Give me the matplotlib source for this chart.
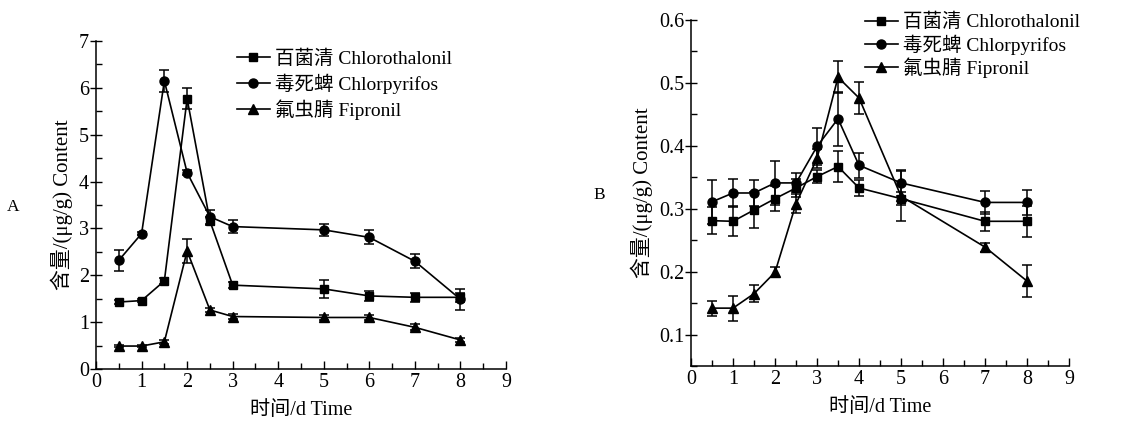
import matplotlib
matplotlib.use("Agg")
import matplotlib.pyplot as plt
from matplotlib.lines import Line2D
from matplotlib.ticker import MultipleLocator

plt.rcParams['font.family'] = ['Liberation Serif', 'Noto Sans CJK SC']

names = ['百菌清 Chlorothalonil', '毒死蜱 Chlorpyrifos', '氟虫腈 Fipronil']
markers = ['s', 'o', '^']
msizes = [5.5, 6.5, 7]

# panel A
days_a = [0.5, 1, 1.5, 2, 2.5, 3, 5, 6, 7, 8]
chloro_a = [1.43, 1.46, 1.88, 5.77, 3.16, 1.79, 1.71, 1.56, 1.53, 1.53]
chloro_a_err = [0.04, 0.04, 0.06, 0.22, 0.08, 0.06, 0.20, 0.10, 0.10, 0.10]
chlorp_a = [2.32, 2.89, 6.15, 4.19, 3.25, 3.04, 2.97, 2.81, 2.30, 1.49]
chlorp_a_err = [0.22, 0.03, 0.24, 0.05, 0.15, 0.13, 0.13, 0.15, 0.15, 0.22]
fip_a = [0.49, 0.49, 0.58, 2.52, 1.26, 1.12, 1.10, 1.10, 0.89, 0.62]
fip_a_err = [0.03, 0.03, 0.04, 0.25, 0.05, 0.05, 0.05, 0.05, 0.06, 0.04]

# panel B
days_b = [0.5, 1, 1.5, 2, 2.5, 3, 3.5, 4, 5, 7, 8]
chloro_b = [0.281, 0.280, 0.298, 0.316, 0.333, 0.351, 0.367, 0.333, 0.316, 0.280, 0.280]
chloro_b_err = [0.021, 0.024, 0.028, 0.020, 0.015, 0.010, 0.025, 0.013, 0.010, 0.015, 0.025]
chlorp_b = [0.311, 0.325, 0.325, 0.341, 0.341, 0.399, 0.443, 0.369, 0.341, 0.310, 0.310]
chlorp_b_err = [0.035, 0.022, 0.020, 0.035, 0.015, 0.030, 0.043, 0.020, 0.020, 0.018, 0.020]
fip_b = [0.142, 0.142, 0.165, 0.199, 0.308, 0.380, 0.509, 0.476, 0.320, 0.239, 0.185]
fip_b_err = [0.012, 0.020, 0.013, 0.008, 0.015, 0.015, 0.025, 0.025, 0.040, 0.007, 0.025]

fig = plt.figure(figsize=(11.26, 4.21), dpi=100)
ax1 = fig.add_axes([0.0853, 0.1235, 0.364, 0.779])
ax2 = fig.add_axes([0.6137, 0.1306, 0.3357, 0.822])

# legend handles without the error bars
handles = [Line2D([], [], color='black', lw=1.2, marker=markers[i],
                  markersize=msizes[i]) for i in range(3)]


def draw(ax, x, series, errs):
    for i in range(3):
        ax.errorbar(x, series[i], yerr=errs[i], color='black', lw=1.2,
                    marker=markers[i], markersize=msizes[i], capsize=3.5,
                    elinewidth=1.1, capthick=1.1)
    ax.spines['top'].set_visible(False)
    ax.spines['right'].set_visible(False)
    ax.spines['left'].set_linewidth(1.1)
    ax.spines['bottom'].set_linewidth(1.1)
    ax.set_xlim(0, 9)
    ax.xaxis.set_major_locator(MultipleLocator(1))
    ax.xaxis.set_minor_locator(MultipleLocator(0.5))
    ax.tick_params(axis='x', which='major', direction='in', length=6, width=1,
                   labelsize=14.5, pad=3)
    ax.tick_params(axis='x', which='minor', direction='in', length=4, width=1)
    ax.tick_params(axis='y', which='major', direction='inout', length=8, width=1,
                   labelsize=14.5, pad=1)
    ax.tick_params(axis='y', which='minor', direction='in', length=4, width=1)
    ax.set_xlabel('时间/d Time', fontsize=14.5, labelpad=6)
    ax.set_ylabel('含量/(μg/g) Content', fontsize=15, labelpad=4)


draw(ax1, days_a, [chloro_a, chlorp_a, fip_a], [chloro_a_err, chlorp_a_err, fip_a_err])
ax1.set_ylim(0, 7)
ax1.yaxis.set_major_locator(MultipleLocator(1))
ax1.yaxis.set_minor_locator(MultipleLocator(0.5))
ax1.legend(handles, names, loc='upper left', bbox_to_anchor=(0.343, 0.975),
           frameon=False, fontsize=14, handlelength=1.7, handletextpad=0.25,
           borderpad=0, labelspacing=0.3, borderaxespad=0)

draw(ax2, days_b, [chloro_b, chlorp_b, fip_b], [chloro_b_err, chlorp_b_err, fip_b_err])
ax2.set_ylim(0.05, 0.6)
ax2.yaxis.set_major_locator(MultipleLocator(0.1))
ax2.yaxis.set_minor_locator(MultipleLocator(0.05))
ax2.yaxis.set_major_formatter(plt.FormatStrFormatter('%.1f'))
ax2.legend(handles, names, loc='upper left', bbox_to_anchor=(0.46, 1.02),
           frameon=False, fontsize=14, handlelength=1.7, handletextpad=0.25,
           borderpad=0, labelspacing=0.15, borderaxespad=0)

fig.text(13 / 1126, 1 - 207 / 421, 'A', fontsize=12.5, ha='center', va='center')
fig.text(599 / 1126, 1 - 195 / 421, 'B', fontsize=12.5, ha='center', va='center')

fig.savefig('out.png', dpi=100)
